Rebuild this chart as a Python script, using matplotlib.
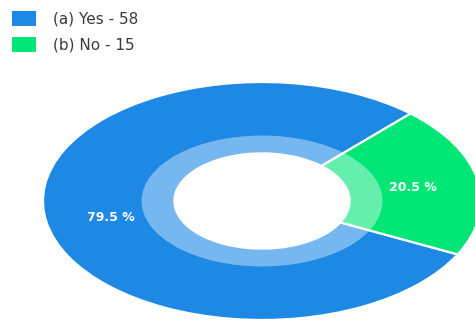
import matplotlib
matplotlib.use("Agg")
import matplotlib.pyplot as plt
from matplotlib.patches import Patch
import numpy as np

plt.rcParams["font.family"] = ["DejaVu Sans"]

categories = ["(a) Yes", "(b) No"]
counts = [58, 15]
colors = ["#1E88E5", "#00E676"]

W, H = 475, 320
fig = plt.figure(figsize=(W / 100, H / 100), dpi=100)
ax = fig.add_axes([0, 0, 1, 1])

cx, cy = 262, 201      # centre in pixels (from top-left)
rx, ry = 219, 119      # outer radii in pixels

total = sum(counts)
start = 47.3
wedges, _ = ax.pie(counts, colors=colors, startangle=start, counterclock=True,
                   radius=1.0, wedgeprops=dict(width=0.6, edgecolor="white", linewidth=1.6))
# lighter inner band
ax.pie([1], colors=["white"], radius=0.55,
       wedgeprops=dict(width=0.15, alpha=0.4, linewidth=0))

ax.set_aspect("auto")
ax.set_xlim(-cx / rx, (W - cx) / rx)
ax.set_ylim(-(H - cy) / ry, cy / ry)
ax.axis("off")

# percentage labels
ang = start
for c in counts:
    span = 360 * c / total
    mid = np.deg2rad(ang + span / 2)
    ang += span
    r = 0.70
    ax.text(r * np.cos(mid), r * np.sin(mid), f"{100 * c / total:.1f} %",
            ha="center", va="center_baseline", color="white", fontsize=9, fontweight="bold")

handles = [Patch(facecolor=col, edgecolor="none") for col in colors]
labels = [f"{cat} - {n}" for cat, n in zip(categories, counts)]
leg = fig.legend(handles, labels, loc="upper left", bbox_to_anchor=(12 / W, 1 - 11 / H),
                 frameon=False, fontsize=11, handlelength=1.6, handleheight=1.1,
                 handletextpad=1.1, labelspacing=0.7, borderaxespad=0, borderpad=0)
for t in leg.get_texts():
    t.set_color("#3a3a3a")

fig.savefig("out.png", dpi=100)
